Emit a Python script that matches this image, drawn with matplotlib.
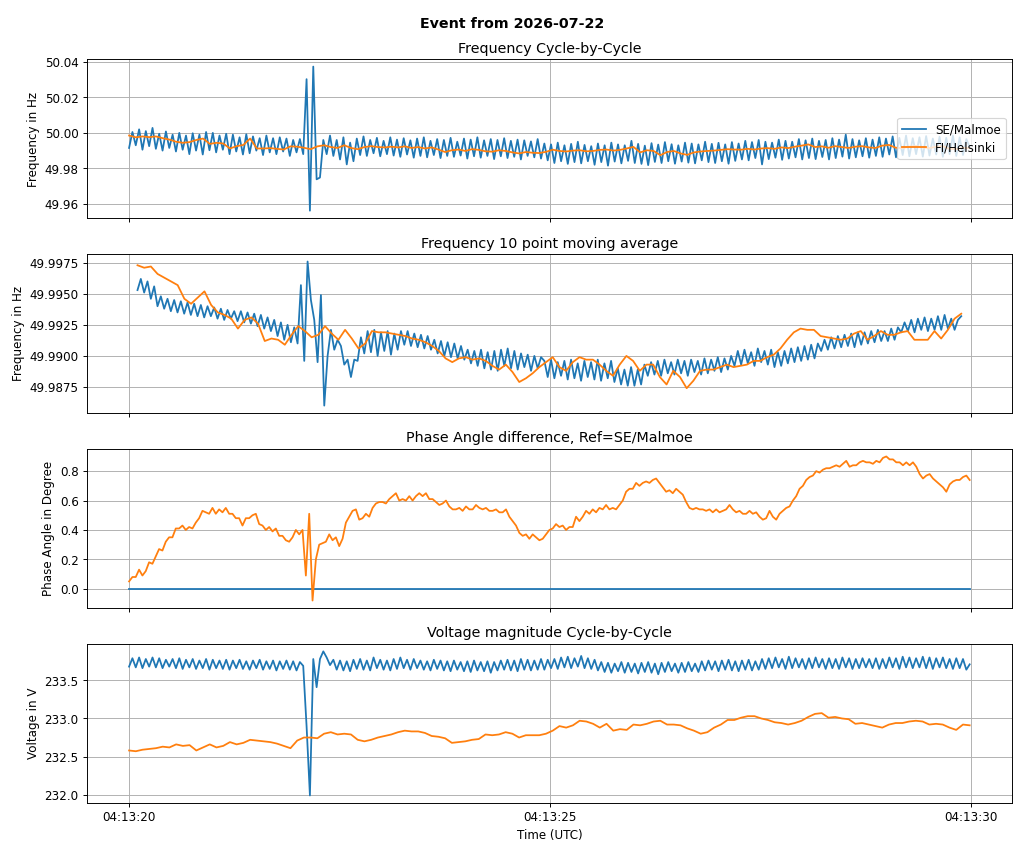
import numpy as np
import pandas as pd
import matplotlib
matplotlib.use("Agg")
import matplotlib.pyplot as plt
import matplotlib.dates as mdates
from matplotlib.ticker import MultipleLocator

event_day = "2026-07-22"
t_start = "2026-07-22 04:13:20.000"
t_end = "2026-07-22 04:13:29.980"
ma_start = "2026-07-22 04:13:20.100"
ma_end = "2026-07-22 04:13:29.880"
locations = ["SE/Malmoe", "FI/Helsinki"]

# frequency cycle-by-cycle, units of 0.1 mHz above 49.9 Hz
freq_se_u = [
    915, 1005, 930, 1020, 905, 1010, 925, 1028, 910, 995, 900, 1008, 915, 990, 895, 1000, 905, 985, 880, 998,
    900, 990, 878, 1005, 902,
    1000, 890, 985, 905, 995, 880, 990, 895, 975, 878, 992, 885, 980, 900, 970, 875, 985, 890, 970, 880,
    975, 895, 968, 870, 960, 890, 965, 880,
    1303, 561, 1374, 738, 748, 960, 880, 985,
    870, 960, 850, 975, 822, 945, 840, 968, 875, 980, 870, 960, 885, 972, 868, 955, 880, 975, 872, 962,
    865, 970, 878, 958, 860, 968, 870, 975, 862, 955, 875, 965, 858, 960, 870, 972, 865, 950, 872, 968,
    855, 962, 868, 975, 860, 958, 870, 965, 852, 960, 868, 970, 858, 955, 865, 962, 850, 958, 870, 952,
    862, 965, 855,
    940, 845, 935, 830, 945, 840, 930, 825, 938, 835, 950, 828, 932, 840, 925, 820, 940, 835, 930, 815,
    945, 838, 935, 828, 930, 842, 955, 830, 938, 825, 928, 818, 942, 836, 934, 830, 948, 840, 936, 826,
    930, 838, 945, 832, 940, 828, 935, 845, 950, 835, 938, 830, 944, 840, 935, 826, 948, 842, 940,
    850, 955, 845, 948, 858, 960, 822, 950, 852, 945, 860, 962, 848, 955, 855, 950, 862, 965, 850, 958,
    858, 968, 852, 955, 864, 960, 850, 970, 858, 962, 866, 990, 855, 965, 862, 958, 868, 970, 860, 962,
    870, 975, 865, 968, 878, 980, 862, 972, 875, 985, 868, 970, 880, 975, 866, 982, 872, 968, 878, 978,
    865, 972, 880, 985, 870, 975, 875, 965, 920,
]
freq_fi_u = [
    985, 975, 980, 976, 980, 970, 962, 950, 944, 948, 960, 968, 938, 944, 940, 912, 925, 932, 968, 912,
    912, 914, 910, 906, 924, 922, 916, 908, 924, 930, 920, 915, 930, 915, 908, 920, 925, 920, 918, 922,
    918, 924, 915, 920, 912, 918, 906, 892, 902, 906, 898, 908, 904, 896, 894, 902, 898, 890, 884, 892,
    888, 886,
    893, 905, 898, 895, 900, 902, 896, 898, 904, 906, 900, 904, 912, 921, 890, 902, 898, 874, 892, 898,
    884, 876, 890, 895, 898, 900, 904, 908, 906, 905, 910, 906, 912, 914, 910, 918, 914, 922, 928, 935,
    920, 924, 916, 925, 920, 915, 922, 925, 918, 915, 928, 932, 916, 914, 922, 926, 918, 914, 922, 925,
    910, 908, 916, 914,
]

# 10 point moving average, same units
freq_ma_se_u = [
    953, 962, 951, 960, 946, 956, 940, 948, 938, 946, 936, 945, 935, 944, 934, 943, 933, 942, 932, 941,
    931, 940, 932, 939, 930, 938, 929, 937, 930, 936, 928, 936, 927, 935, 926, 934, 924, 933, 922, 931,
    920, 929, 916, 927, 913, 925, 911, 923, 910,
    957, 896, 976, 945, 929, 895, 949, 860, 900, 921, 905, 913, 908, 893, 897, 883, 897, 896, 915,
    902, 920, 903, 921, 900, 919, 904, 920, 901, 918, 905, 920,
    909, 920, 908, 918, 907, 917, 906, 916, 905,
    913, 902, 912, 900, 911, 899, 910, 898, 908, 897,
    905, 894, 904, 892, 905, 890, 903, 889, 904, 888,
    905, 892, 906, 890, 904, 889, 902, 891, 901, 888, 900, 890, 899,
    896, 883, 897, 882, 895, 884, 896, 881, 897, 882, 894, 880, 896, 883, 895, 881, 897, 880, 894, 882,
    896, 879,
    890, 877, 889, 876, 891, 876, 889, 877,
    893, 884, 895, 885, 896, 884, 897, 886, 895, 885, 897, 886, 896, 884, 897, 887, 896, 885, 898, 886,
    897, 888, 899, 887, 898, 889, 900,
    892, 904, 893, 905, 894, 903, 892, 906, 895, 904, 893, 905,
    891, 903, 892, 904,
    894, 906, 895, 907, 896, 908, 897, 909, 898, 910,
    904, 913, 905, 915, 906, 916, 907, 917, 908, 918, 907, 919, 909, 919,
    910, 920, 911, 921, 912, 920, 912, 922, 913, 923,
    919, 927, 920, 929, 919, 930, 921, 931, 920, 930, 921, 932,
    921, 933, 922, 930, 921, 929, 932,
]
freq_ma_fi_u = [
    973, 971, 972, 966, 963, 960, 957, 946, 942, 947, 952, 941, 935, 933, 930, 922, 929, 931, 926, 912,
    914, 913, 909, 917, 924, 920, 915, 917, 924, 918, 913, 921, 914, 906, 910, 920, 919, 919, 918, 917,
    916, 914, 913, 911, 908, 904, 898, 895, 898, 899, 897, 898, 896, 892, 889, 893, 887, 879, 882, 886,
    891,
    895, 899, 891, 888, 895, 899, 897, 897, 893, 888, 884, 893, 900, 896, 888, 893, 893, 883, 877, 888,
    883, 874, 880, 888, 889, 889, 891, 893, 891, 892, 893, 896, 896, 899, 901, 906, 913, 919, 922, 921,
    921, 916, 915, 914, 913, 914, 918, 920, 913, 916, 920, 917, 917, 919, 920, 913, 913, 913, 920, 914,
    921, 930, 934,
]

# phase angle difference FI vs SE, units of 0.01 degree
phase_fi_u = [
    5, 8, 8, 13, 9, 12, 18, 17, 22, 27, 26, 32, 35, 35, 41, 41, 43, 40, 42, 41,
    45, 48, 53, 52, 51, 55, 51, 54, 52, 55, 51, 51, 48, 48, 43, 48, 48, 50, 51, 44,
    43, 40, 42, 39, 41, 36, 36, 33, 32, 35, 40, 37, 40, 9, 51, -8, 20, 30, 31, 32,
    37, 33, 35, 29, 34, 45, 49, 53, 54, 47, 48, 51, 49, 55, 58, 59, 59, 58, 61, 63,
    65, 60, 61, 60, 63, 60, 63, 65, 63, 65, 61, 61, 59, 57, 58, 60, 56, 54, 54, 55,
    53, 56, 54, 54, 57, 55, 54, 55, 53, 53, 54, 52, 52, 54, 49, 46, 43, 38, 36, 37,
    34, 37, 35, 33,
    34, 37, 40, 41, 44, 42, 43, 40, 42, 42, 49, 46, 49, 53, 51, 54, 52, 55, 54, 57,
    54, 55, 54, 57, 60, 66, 68, 68, 72, 70, 72, 73, 72, 74, 75, 72, 69, 66, 67, 65,
    68, 66, 64, 59, 55, 54, 55, 54, 54, 53, 54, 52, 54, 52, 53, 54, 57, 54, 52, 53,
    51, 51, 53, 51, 52, 49, 47, 48, 53, 49, 47, 51, 53, 55, 56, 60, 63, 68, 70, 74,
    76, 77, 80, 79, 81, 82, 82, 83, 84, 83, 85, 87, 83, 84, 84, 86, 87, 86, 86, 85,
    87, 86, 89, 90, 88, 88, 86, 86, 84, 86, 84, 86, 83, 78, 75, 77, 78, 75, 73, 71,
    69, 66, 71, 73, 74, 74, 76, 77, 74,
]
phase_se_deg = [0.0, 0.0]  # reference location, first and last sample

# voltage magnitude, units of 0.01 V above 232 V
volt_se_u = [
    168, 179, 167, 180, 166, 178, 168, 180, 167, 179, 166, 177, 168, 178, 166, 179, 165, 177, 167, 178,
    165, 176, 166, 178, 164, 177, 166, 176, 165, 177, 164, 176, 166, 177, 165, 175, 164, 176, 166, 177,
    164, 175, 165, 176, 163, 175, 165, 176, 164, 175, 163, 174,
    169, 90, -1, 178, 141, 178, 188, 180, 170,
    177, 164, 176, 163, 175, 162, 177, 165, 178, 164, 176, 163, 180, 166, 177, 164, 176, 163, 178, 165,
    180, 166, 177, 164, 178, 166, 176, 164, 175, 163, 177, 165, 176, 163, 175, 162, 176, 164, 174, 162,
    175, 161, 176, 163, 174, 162, 175, 160, 174, 163, 176, 164, 177, 163, 176, 162, 178, 164, 177, 163,
    176, 164, 178,
    164, 177, 166, 178, 165, 180, 167, 181, 166, 179, 168, 182, 166, 179, 165, 177, 163,
    174, 161, 173, 160, 172, 162, 174, 160, 173, 161, 172, 159, 173, 161, 174, 160, 172, 158, 173, 161,
    174, 162, 172, 160, 173, 161, 174, 162, 172, 161,
    175, 163, 176, 164, 175, 162, 176, 164, 177, 163, 175, 162, 176, 164, 177, 163, 175, 164, 178, 165,
    179, 166, 180, 167, 178, 165, 181, 166, 179, 167, 178, 165, 179, 166, 180, 167, 178, 165, 179, 166,
    178, 165, 180, 167, 179, 165, 178, 166, 179, 167,
    178, 166, 179, 165, 178, 166, 180, 167, 179, 165, 181, 167, 180, 166, 179, 167, 181, 166, 180, 165,
    179, 167, 180, 166, 178, 165, 179, 166, 178, 164, 171,
]
volt_fi_u = [
    58, 57, 59, 60, 61, 63, 62, 66, 64, 65, 58, 62, 66, 62, 64, 69, 66, 68, 72, 71,
    70, 69, 67, 64, 61, 71, 75, 75, 74, 80, 82, 79, 80, 79, 72, 70, 72, 75, 77, 79,
    82, 84, 83, 83, 81, 77, 76, 74, 68, 69, 70, 72, 73, 79, 78, 79, 82, 80, 75, 78,
    78, 78,
    80, 84, 90, 88, 91, 97, 96, 93, 88, 93, 84, 86, 85, 92, 91, 93, 96, 97, 92, 92,
    91, 87, 84, 80, 82, 88, 92, 98, 98, 101, 103, 103, 100, 98, 95, 94, 92, 94, 97, 102,
    106, 107, 101, 102, 100, 99, 93, 94, 92, 90, 88, 92, 94, 94, 96, 97, 96, 92, 93, 92,
    88, 85, 92, 91,
]

freq_se = 49.9 + np.array(freq_se_u) / 1e4
freq_fi = 49.9 + np.array(freq_fi_u) / 1e4
freq_ma_se = 49.9 + np.array(freq_ma_se_u) / 1e4
freq_ma_fi = 49.9 + np.array(freq_ma_fi_u) / 1e4
phase_fi = np.array(phase_fi_u) / 100
volt_se = 232 + np.array(volt_se_u) / 100
volt_fi = 232 + np.array(volt_fi_u) / 100


def times(n, start=t_start, end=t_end):
    return pd.date_range(start, end, periods=n)


fig, axs = plt.subplots(4, 1, sharex=True, figsize=(12, 10), dpi=1024 / 12)
fig.subplots_adjust(left=0.085, right=0.988, top=0.930, bottom=0.059, hspace=0.23)
fig.suptitle(f"Event from {event_day}", fontweight="bold")

ax = axs[0]
ax.plot(times(len(freq_se)), freq_se, label=locations[0])
ax.plot(times(len(freq_fi)), freq_fi, label=locations[1])
ax.set_title("Frequency Cycle-by-Cycle")
ax.set_ylabel("Frequency in Hz")
ax.yaxis.set_major_locator(MultipleLocator(0.02))
ax.legend(loc="center right")

ax = axs[1]
ax.plot(times(len(freq_ma_se), ma_start, ma_end), freq_ma_se)
ax.plot(times(len(freq_ma_fi), ma_start, ma_end), freq_ma_fi)
ax.set_title("Frequency 10 point moving average")
ax.set_ylabel("Frequency in Hz")
ax.yaxis.set_major_locator(MultipleLocator(0.0025))

ax = axs[2]
ax.plot(times(len(phase_se_deg)), phase_se_deg)
ax.plot(times(len(phase_fi)), phase_fi)
ax.set_title(f"Phase Angle difference, Ref={locations[0]}")
ax.set_ylabel("Phase Angle in Degree")
ax.yaxis.set_major_locator(MultipleLocator(0.2))

ax = axs[3]
ax.plot(times(len(volt_se)), volt_se)
ax.plot(times(len(volt_fi)), volt_fi)
ax.set_title("Voltage magnitude Cycle-by-Cycle")
ax.set_ylabel("Voltage in V")
ax.set_xlabel("Time (UTC)")
ax.yaxis.set_major_locator(MultipleLocator(0.5))

for ax in axs:
    ax.grid(True)
    ax.ticklabel_format(axis="y", useOffset=False)
axs[3].xaxis.set_major_locator(mdates.SecondLocator(bysecond=range(0, 60, 5)))
axs[3].xaxis.set_major_formatter(mdates.DateFormatter("%H:%M:%S"))

fig.savefig("out.png")
